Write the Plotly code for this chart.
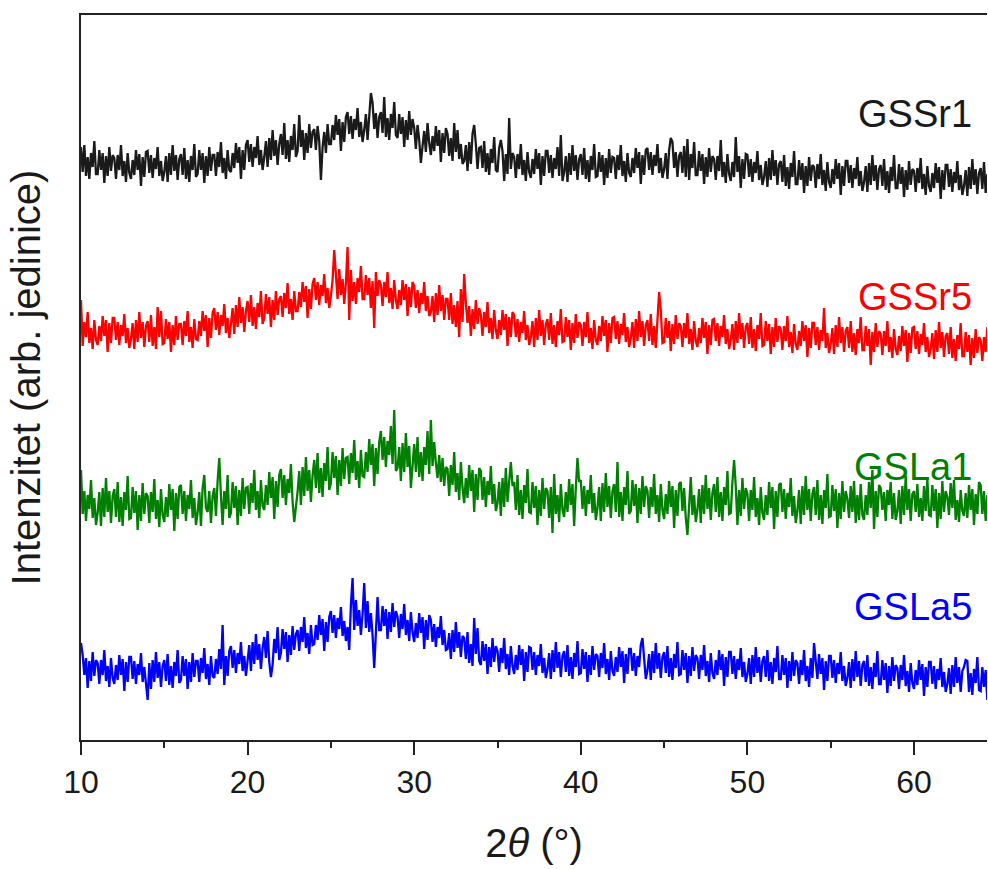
import numpy as np
import plotly.graph_objects as go

# 2-theta scan grid (degrees): 10.0 ... 64.4 in 0.1 deg steps
two_theta = np.round(np.linspace(10.0, 64.4, 545), 1)

# Measured intensities (arb. units), each pattern on its own baseline.
# One row per degree of 2-theta.
gssr1 = [
    88, 63, 90, 59, 78, 56, 82, 68, 94, 61,
    61, 85, 65, 82, 52, 79, 59, 88, 64, 80,
    77, 56, 80, 65, 90, 59, 74, 53, 82, 62,
    56, 75, 60, 85, 65, 81, 49, 78, 58, 83,
    84, 62, 80, 57, 77, 66, 88, 59, 74, 54,
    63, 79, 53, 82, 60, 90, 64, 80, 55, 76,
    81, 60, 87, 56, 75, 53, 79, 65, 91, 58,
    61, 85, 65, 82, 52, 79, 59, 88, 64, 80,
    80, 59, 83, 68, 93, 62, 77, 56, 85, 65,
    63, 82, 67, 92, 72, 88, 56, 85, 65, 90,
    95, 73, 91, 68, 88, 77, 99, 70, 85, 65,
    78, 94, 68, 97, 75, 105, 79, 95, 70, 91,
    101, 80, 112, 76, 95, 73, 99, 85, 111, 78,
    84, 120, 88, 105, 75, 102, 82, 111, 87, 103,
    106, 85, 109, 94, 55, 88, 103, 82, 111, 91,
    91, 110, 95, 120, 100, 116, 84, 113, 93, 118,
    123, 101, 119, 96, 116, 105, 127, 98, 113, 93,
    105, 121, 95, 124, 142, 132, 106, 122, 97, 118,
    123, 102, 138, 98, 117, 95, 121, 107, 133, 100,
    97, 121, 101, 118, 88, 115, 95, 124, 100, 116,
    107, 86, 110, 95, 72, 89, 104, 83, 112, 92,
    80, 99, 84, 109, 89, 105, 73, 102, 82, 107,
    101, 79, 97, 74, 112, 83, 105, 76, 91, 71,
    74, 90, 64, 93, 71, 101, 110, 91, 66, 87,
    88, 67, 94, 63, 82, 60, 86, 72, 98, 65,
    63, 87, 95, 84, 54, 81, 61, 117, 66, 82,
    78, 57, 81, 66, 91, 60, 75, 54, 83, 63,
    57, 76, 61, 86, 66, 82, 50, 79, 59, 84,
    84, 62, 80, 57, 77, 66, 88, 59, 100, 54,
    63, 79, 53, 82, 60, 90, 64, 80, 55, 76,
    81, 60, 87, 56, 75, 53, 79, 65, 91, 58,
    59, 83, 63, 80, 50, 77, 57, 86, 62, 78,
    77, 56, 80, 65, 90, 59, 74, 53, 82, 62,
    58, 77, 62, 87, 67, 83, 51, 80, 60, 85,
    87, 65, 83, 60, 80, 69, 91, 62, 77, 57,
    66, 82, 56, 85, 97, 93, 67, 83, 58, 79,
    83, 62, 89, 58, 96, 55, 81, 67, 93, 60,
    60, 84, 64, 81, 51, 78, 58, 87, 63, 79,
    76, 55, 79, 64, 95, 58, 73, 52, 81, 61,
    54, 73, 58, 98, 63, 79, 47, 76, 56, 81,
    80, 58, 76, 53, 73, 62, 84, 55, 70, 50,
    58, 74, 48, 77, 55, 85, 59, 75, 50, 71,
    74, 53, 80, 49, 68, 46, 72, 58, 84, 51,
    51, 75, 55, 72, 42, 69, 49, 78, 54, 70,
    68, 47, 71, 56, 81, 50, 65, 44, 73, 53,
    47, 66, 51, 76, 56, 72, 40, 69, 49, 74,
    74, 52, 70, 47, 67, 56, 78, 49, 64, 44,
    53, 69, 43, 72, 50, 80, 54, 70, 45, 66,
    70, 49, 76, 45, 64, 42, 68, 54, 80, 47,
    47, 71, 51, 68, 38, 65, 45, 74, 50, 66,
    64, 43, 67, 52, 77, 46, 61, 40, 69, 49,
    43, 62, 47, 72, 52, 68, 36, 65, 45, 70,
    70, 48, 66, 43, 63, 52, 74, 45, 60, 40,
    49, 65, 39, 68, 46, 76, 50, 66, 41, 62,
    67, 46, 73, 42, 61,
]

gssr5 = [
    100, 54, 78, 63, 88, 57, 72, 51, 80, 60,
    55, 74, 59, 84, 64, 80, 48, 77, 57, 82,
    82, 60, 78, 55, 75, 64, 86, 57, 72, 52,
    61, 77, 51, 80, 58, 88, 62, 78, 53, 74,
    79, 58, 85, 54, 73, 51, 93, 63, 89, 56,
    57, 81, 61, 78, 48, 75, 55, 84, 60, 76,
    76, 55, 79, 64, 89, 58, 73, 52, 81, 61,
    60, 79, 64, 89, 69, 85, 53, 82, 62, 87,
    92, 70, 88, 65, 85, 74, 96, 67, 82, 62,
    76, 92, 66, 95, 73, 103, 77, 93, 68, 89,
    99, 78, 105, 74, 93, 71, 97, 83, 109, 76,
    82, 106, 86, 103, 73, 100, 80, 109, 85, 101,
    104, 83, 107, 92, 117, 86, 101, 80, 109, 89,
    89, 108, 93, 118, 98, 114, 82, 111, 91, 116,
    122, 100, 118, 95, 115, 104, 126, 97, 112, 92,
    104, 120, 150, 123, 101, 131, 105, 121, 96, 117,
    153, 80, 130, 99, 118, 96, 122, 108, 134, 101,
    101, 125, 105, 122, 92, 119, 72, 128, 104, 120,
    115, 94, 118, 103, 128, 97, 112, 91, 120, 100,
    91, 110, 95, 120, 100, 116, 84, 113, 93, 118,
    114, 92, 110, 87, 107, 96, 118, 89, 104, 84,
    88, 104, 78, 107, 85, 115, 89, 105, 80, 101,
    101, 80, 107, 76, 95, 73, 99, 63, 111, 78,
    126, 97, 77, 94, 64, 91, 71, 100, 76, 92,
    85, 64, 88, 73, 98, 67, 82, 61, 90, 70,
    61, 80, 65, 90, 70, 86, 54, 83, 63, 88,
    85, 63, 81, 58, 78, 67, 89, 60, 75, 55,
    63, 79, 53, 82, 60, 90, 64, 80, 55, 76,
    81, 60, 87, 56, 75, 53, 79, 65, 91, 58,
    59, 83, 63, 80, 50, 77, 57, 86, 62, 78,
    75, 54, 78, 63, 88, 57, 72, 51, 80, 60,
    55, 74, 59, 84, 64, 80, 48, 77, 57, 82,
    83, 61, 79, 56, 76, 65, 87, 58, 73, 53,
    62, 78, 52, 81, 59, 89, 63, 79, 54, 75,
    80, 59, 86, 55, 74, 52, 78, 108, 90, 57,
    58, 82, 62, 79, 49, 76, 56, 85, 61, 77,
    74, 53, 77, 62, 87, 56, 71, 50, 79, 59,
    53, 72, 57, 82, 62, 78, 46, 75, 55, 80,
    81, 59, 77, 54, 74, 63, 85, 56, 71, 51,
    60, 76, 50, 79, 57, 87, 61, 77, 52, 73,
    77, 56, 83, 52, 71, 49, 75, 61, 87, 54,
    55, 79, 59, 76, 46, 73, 53, 82, 58, 74,
    71, 50, 74, 59, 84, 53, 68, 47, 76, 56,
    50, 69, 54, 79, 59, 75, 43, 72, 52, 77,
    77, 55, 73, 50, 70, 59, 92, 52, 67, 47,
    56, 72, 46, 75, 53, 83, 57, 73, 48, 69,
    73, 52, 79, 48, 67, 45, 71, 57, 83, 50,
    50, 74, 54, 71, 35, 68, 48, 77, 53, 69,
    66, 45, 69, 54, 79, 48, 63, 42, 71, 51,
    45, 64, 49, 74, 54, 70, 38, 67, 47, 72,
    73, 51, 69, 46, 66, 55, 77, 48, 63, 43,
    51, 67, 41, 70, 48, 78, 52, 68, 43, 64,
    67, 46, 73, 42, 61, 39, 65, 51, 77, 44,
    44, 68, 48, 65, 35, 62, 42, 71, 47, 63,
    60, 39, 63, 48, 73,
]

gsla1 = [
    100, 56, 79, 49, 75, 61, 90, 52, 72, 45,
    57, 78, 44, 82, 53, 92, 58, 79, 47, 74,
    81, 53, 88, 48, 73, 44, 78, 60, 94, 51,
    52, 83, 57, 79, 40, 75, 49, 87, 56, 77,
    74, 47, 78, 58, 91, 51, 70, 43, 81, 55,
    48, 73, 53, 86, 60, 81, 39, 77, 51, 83,
    85, 56, 79, 49, 75, 61, 90, 52, 72, 45,
    57, 78, 44, 82, 95, 62, 58, 79, 47, 74,
    82, 54, 89, 112, 74, 45, 79, 61, 95, 52,
    57, 88, 62, 84, 45, 80, 54, 92, 61, 82,
    83, 56, 87, 67, 100, 60, 79, 52, 90, 64,
    60, 85, 65, 98, 72, 93, 51, 89, 63, 95,
    101, 72, 95, 65, 91, 77, 106, 68, 48, 61,
    78, 99, 65, 103, 74, 113, 79, 100, 68, 95,
    110, 82, 117, 77, 102, 73, 107, 89, 123, 80,
    87, 118, 92, 114, 75, 110, 84, 122, 91, 112,
    113, 86, 117, 97, 130, 90, 109, 82, 120, 94,
    93, 118, 98, 131, 105, 126, 84, 122, 96, 128,
    139, 110, 133, 103, 129, 115, 144, 106, 160, 99,
    102, 123, 89, 127, 98, 137, 103, 124, 82, 104,
    126, 98, 133, 93, 118, 89, 123, 105, 139, 96,
    150, 104, 128, 107, 92, 115, 88, 112, 84, 103,
    101, 74, 105, 85, 118, 78, 97, 70, 108, 82,
    67, 92, 72, 105, 79, 100, 58, 96, 70, 102,
    99, 70, 93, 63, 89, 75, 104, 66, 86, 59,
    67, 88, 54, 92, 63, 102, 68, 89, 108, 84,
    88, 60, 95, 55, 80, 51, 85, 67, 101, 58,
    57, 88, 62, 84, 45, 80, 54, 92, 61, 82,
    79, 52, 83, 37, 96, 56, 75, 48, 86, 60,
    53, 78, 58, 91, 65, 86, 44, 82, 112, 88,
    90, 61, 84, 54, 80, 66, 95, 57, 77, 50,
    62, 83, 49, 87, 58, 97, 63, 84, 52, 79,
    86, 58, 108, 53, 78, 49, 83, 65, 99, 56,
    59, 90, 64, 86, 47, 82, 56, 94, 63, 84,
    79, 52, 83, 63, 96, 56, 75, 48, 86, 60,
    51, 76, 56, 89, 63, 84, 42, 80, 54, 86,
    88, 59, 82, 52, 35, 64, 93, 55, 75, 48,
    60, 81, 47, 85, 56, 95, 61, 82, 50, 77,
    86, 58, 93, 53, 78, 49, 83, 65, 99, 56,
    57, 88, 110, 84, 45, 80, 54, 92, 61, 82,
    76, 49, 80, 60, 93, 53, 72, 45, 83, 57,
    50, 75, 55, 88, 62, 83, 41, 79, 53, 85,
    87, 58, 81, 51, 77, 63, 92, 54, 74, 47,
    59, 80, 46, 84, 55, 94, 60, 81, 49, 76,
    83, 55, 90, 50, 75, 46, 80, 62, 96, 53,
    54, 85, 59, 81, 42, 77, 51, 89, 58, 79,
    71, 52, 84, 58, 89, 47, 75, 50, 86, 55,
    50, 75, 55, 88, 62, 100, 41, 79, 53, 85,
    82, 60, 78, 49, 80, 65, 88, 51, 77, 50,
    59, 80, 46, 84, 55, 94, 60, 81, 49, 76,
    79, 58, 86, 53, 72, 49, 84, 59, 91, 55,
    54, 85, 59, 81, 42, 77, 51, 89, 58, 79,
    73, 55, 87, 62, 90, 50, 70, 48, 80, 59,
    54, 77, 52, 85, 60, 81, 45, 76, 56, 88,
    85, 56, 79, 49, 75,
]

gsla5 = [
    97, 85, 65, 82, 52, 79, 59, 88, 64, 80,
    77, 56, 80, 65, 90, 59, 74, 53, 82, 62,
    56, 75, 60, 85, 65, 81, 49, 78, 58, 83,
    83, 61, 79, 56, 76, 65, 87, 58, 73, 53,
    40, 77, 51, 80, 58, 88, 62, 78, 53, 74,
    80, 59, 86, 55, 74, 52, 78, 64, 90, 57,
    60, 84, 64, 81, 51, 78, 58, 87, 63, 79,
    79, 58, 82, 67, 92, 61, 76, 55, 84, 64,
    62, 81, 66, 91, 71, 115, 55, 84, 64, 89,
    94, 72, 90, 67, 87, 76, 98, 69, 84, 64,
    79, 95, 69, 98, 76, 106, 80, 96, 71, 92,
    103, 82, 109, 78, 63, 75, 101, 87, 113, 80,
    87, 111, 91, 108, 78, 105, 85, 114, 90, 106,
    110, 89, 113, 98, 123, 92, 107, 86, 115, 95,
    96, 115, 100, 125, 105, 121, 89, 118, 98, 123,
    129, 107, 125, 102, 122, 111, 133, 104, 119, 99,
    113, 90, 135, 162, 110, 140, 114, 130, 105, 126,
    157, 112, 139, 108, 127, 105, 72, 117, 143, 110,
    110, 134, 114, 131, 101, 128, 108, 137, 113, 129,
    123, 102, 126, 111, 136, 105, 120, 99, 128, 108,
    98, 117, 102, 127, 107, 123, 91, 120, 100, 125,
    120, 98, 116, 93, 113, 102, 124, 95, 110, 90,
    91, 107, 81, 110, 88, 118, 92, 108, 83, 104,
    102, 81, 108, 77, 96, 74, 122, 86, 112, 79,
    75, 99, 79, 96, 66, 93, 73, 102, 78, 94,
    89, 68, 92, 77, 102, 71, 86, 65, 94, 74,
    66, 85, 70, 95, 75, 91, 59, 88, 68, 93,
    92, 70, 88, 65, 85, 74, 96, 67, 82, 62,
    71, 87, 61, 90, 68, 98, 72, 88, 63, 84,
    89, 68, 95, 64, 83, 61, 87, 73, 99, 66,
    67, 91, 71, 88, 58, 85, 65, 94, 70, 86,
    84, 63, 87, 72, 97, 66, 81, 60, 89, 69,
    64, 83, 68, 93, 73, 89, 57, 86, 66, 91,
    91, 69, 87, 64, 84, 73, 95, 102, 81, 61,
    70, 86, 60, 89, 67, 97, 71, 87, 62, 83,
    88, 67, 94, 63, 82, 60, 86, 72, 98, 65,
    66, 90, 70, 87, 57, 84, 64, 93, 69, 85,
    82, 61, 85, 70, 95, 64, 79, 58, 87, 67,
    61, 80, 65, 90, 70, 86, 54, 83, 63, 88,
    88, 66, 84, 61, 81, 70, 92, 63, 78, 58,
    66, 82, 56, 85, 63, 93, 67, 83, 58, 79,
    84, 63, 90, 59, 78, 56, 82, 68, 94, 61,
    61, 85, 65, 82, 52, 79, 59, 88, 64, 80,
    77, 56, 80, 65, 90, 59, 74, 53, 82, 62,
    97, 76, 61, 86, 66, 82, 50, 79, 59, 84,
    84, 62, 80, 57, 77, 66, 88, 59, 74, 54,
    62, 78, 52, 81, 59, 89, 63, 79, 54, 75,
    79, 58, 85, 54, 73, 51, 77, 63, 89, 56,
    56, 80, 60, 77, 47, 74, 54, 83, 59, 75,
    72, 51, 75, 60, 85, 54, 69, 48, 77, 57,
    51, 70, 55, 80, 60, 76, 44, 73, 53, 78,
    78, 56, 74, 51, 71, 60, 82, 53, 68, 48,
    56, 72, 46, 75, 53, 83, 57, 73, 48, 69,
    73, 80, 79, 48, 67, 45, 71, 57, 83, 50,
    49, 73, 53, 70, 40,
]

sample_names = ["GSSr1", "GSSr5", "GSLa1", "GSLa5"]
patterns = [gssr1, gssr5, gsla1, gsla5]

FONT = "Liberation Sans, Arial, Helvetica, sans-serif"
colors = ["#1a1a1a", "#ff0000", "#008000", "#0000ff"]
offsets = [505, 340, 170, 0]          # vertical stacking of the patterns
label_y = [626, 443, 273, 133]        # label heights in data units

fig = go.Figure()
for name, vals, col, off in zip(sample_names, patterns, colors, offsets):
    fig.add_trace(go.Scatter(
        x=two_theta, y=np.array(vals) + off, mode="lines", name=name,
        line=dict(color=col, width=2.3), showlegend=False,
    ))

for name, col, ly in zip(sample_names, colors, label_y):
    fig.add_annotation(
        x=63.6, y=ly, xref="x", yref="y", text=name, showarrow=False,
        xanchor="right", yanchor="middle",
        font=dict(family=FONT, size=38, color=col),
    )

fig.update_layout(
    width=988, height=869,
    margin=dict(l=81, r=1, t=15, b=129),
    paper_bgcolor="white", plot_bgcolor="white",
    font=dict(family=FONT, color="#1a1a1a"),
    xaxis=dict(
        range=[10, 64.38], showgrid=False, zeroline=False,
        showline=True, linecolor="#222222", linewidth=2, mirror=True,
        ticks="outside", ticklen=13, tickwidth=2, tickcolor="#222222",
        tick0=10, dtick=10, tickfont=dict(size=32, family=FONT, color="#1a1a1a"),
        minor=dict(ticks="outside", ticklen=6, tickwidth=2, tickcolor="#222222", dtick=5),
        title=dict(text="2<i>θ</i> (°)", font=dict(size=40, family=FONT, color="#1a1a1a"), standoff=30),
    ),
    yaxis=dict(
        range=[0, 725], showgrid=False, zeroline=False,
        showline=True, linecolor="#222222", linewidth=2,
        ticks="", showticklabels=False,
        title=dict(text="Intenzitet (arb. jedinice)", font=dict(size=40, family=FONT, color="#1a1a1a"), standoff=26),
    ),
)

fig.write_html("out.html")
